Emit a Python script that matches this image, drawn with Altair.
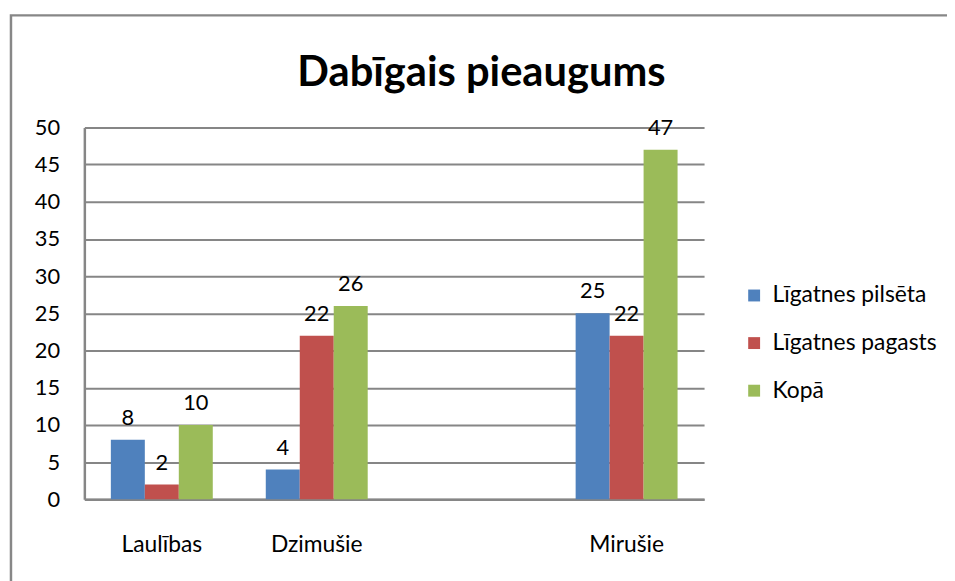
import altair as alt
import pandas as pd

categories = ["Laulības", "Dzimušie", " ", "Mirušie"]
series = ["Līgatnes pilsēta", "Līgatnes pagasts", "Kopā"]
colors = ["#4F81BD", "#C0504D", "#9BBB59"]
data_cats = ["Laulības", "Dzimušie", "Mirušie"]
pilseta = [8, 4, 25]
pagasts = [2, 22, 22]
kopa = [10, 26, 47]
y_ticks = [0, 5, 10, 15, 20, 25, 30, 35, 40, 45, 50]

rows = []
for i, c in enumerate(data_cats):
    for s, vals in zip(series, [pilseta, pagasts, kopa]):
        rows.append({"cat": c, "series": s, "value": vals[i]})
df = pd.DataFrame(rows)

FONT = "Lato"
GRAY = "#868686"

x_scale = alt.Scale(domain=categories, paddingInner=0, paddingOuter=0)
y_scale = alt.Scale(domain=[0, 50], nice=False)

x_enc = alt.X("cat:N", sort=categories, scale=x_scale,
              axis=alt.Axis(title=None, labelAngle=0, labelFontSize=23, labelFont=FONT,
                            labelColor="#000000", labelPadding=35, ticks=False,
                            domainColor=GRAY, domainWidth=2.5, grid=False))
xoff_enc = alt.XOffset("series:N", sort=series,
                       scale=alt.Scale(domain=series, paddingInner=0, paddingOuter=0.78))
y_enc = alt.Y("value:Q", scale=y_scale,
              axis=alt.Axis(title=None, values=y_ticks, labelFontSize=22, labelFont=FONT,
                            labelColor="#000000", labelPadding=25, ticks=False,
                            labelOverlap=False,
                            domainColor=GRAY, domainWidth=2.5,
                            gridColor=GRAY, gridWidth=2))

bars = alt.Chart(df).mark_bar().encode(
    x=x_enc,
    xOffset=xoff_enc,
    y=y_enc,
    color=alt.Color("series:N", sort=series,
                    scale=alt.Scale(domain=series, range=colors),
                    legend=alt.Legend(title=None, orient="none", legendX=664, legendY=158,
                                      symbolType="square", symbolSize=144,
                                      symbolStrokeWidth=0, labelFont=FONT,
                                      labelFontSize=23, labelColor="#000000",
                                      labelLimit=400,
                                      labelOffset=7, rowPadding=24, padding=0)),
)

labels = alt.Chart(df).mark_text(baseline="alphabetic", dy=-15, fontSize=22,
                                 font=FONT, color="#000000").encode(
    x=x_enc,
    xOffset=xoff_enc,
    y=y_enc,
    text=alt.Text("value:Q"),
)

frame = alt.Chart(pd.DataFrame({"a": [0]})).mark_rect(
    fill=None, stroke="#878787", strokeWidth=2.5
).encode(x=alt.value(-74), x2=alt.value(890), y=alt.value(-113), y2=alt.value(470))

chart = alt.layer(frame, bars, labels).properties(
    width=625, height=375,
    autosize=alt.AutoSizeParams(type="none"),
    padding={"left": 77, "top": 118, "right": 245, "bottom": 80},
    title=alt.Title("Dabīgais pieaugums", font=FONT, fontSize=42, fontWeight="bold",
                    color="#000000", anchor="middle", dx=88, offset=-81),
).configure_view(stroke=None)

chart.save("out.html", embed_options={"renderer": "svg", "actions": False})
